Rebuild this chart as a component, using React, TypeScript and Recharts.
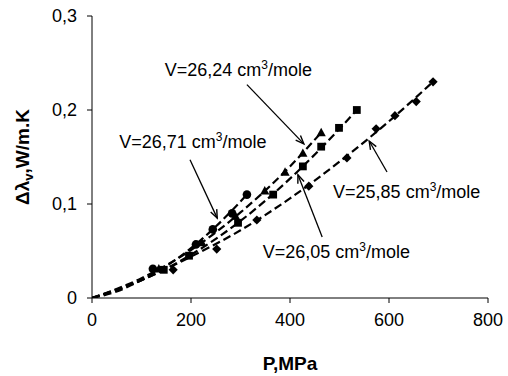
import React from 'react';
import { ComposedChart, Line, Scatter, XAxis, YAxis, ReferenceLine, ReferenceDot } from 'recharts';

const FONT = '"Liberation Sans", Arial, Helvetica, sans-serif';

// Axis ticks
const pressureTicks = [0, 200, 400, 600, 800];
const conductivityTicks = [0, 0.1, 0.2, 0.3];

// Measured points (P in MPa, Δλ in W/m.K)
const v2671P = [123, 210, 244, 283, 313];
const v2671L = [0.031, 0.057, 0.073, 0.09, 0.11];

const v2624P = [135, 222, 290, 349, 390, 426, 463];
const v2624L = [0.031, 0.059, 0.087, 0.114, 0.134, 0.154, 0.176];

const v2605P = [145, 196, 295, 366, 426, 463, 499, 535];
const v2605L = [0.03, 0.045, 0.08, 0.11, 0.14, 0.161, 0.181, 0.2];

const v2585P = [164, 252, 333, 438, 515, 574, 612, 655, 689];
const v2585L = [0.03, 0.052, 0.083, 0.119, 0.149, 0.18, 0.194, 0.209, 0.23];

// Dashed trend curves
const t2671P = [0, 50, 100, 150, 200, 250, 313];
const t2671L = [0, 0.007, 0.019, 0.034, 0.053, 0.076, 0.11];

const t2624P = [0, 100, 200, 300, 400, 463];
const t2624L = [0, 0.021, 0.051, 0.091, 0.14, 0.176];

const t2605P = [0, 100, 200, 300, 400, 500, 535];
const t2605L = [0, 0.019, 0.046, 0.082, 0.127, 0.18, 0.2];

const t2585P = [0, 100, 200, 300, 400, 500, 600, 689];
const t2585L = [0, 0.019, 0.044, 0.072, 0.106, 0.145, 0.188, 0.23];

// Annotation labels (left edge, vertical centre)
const labelTexts = ['V=26,24', 'V=26,71', 'V=26,05', 'V=25,85'];
const labelP = [147, 55, 345, 487];
const labelL = [0.2426, 0.166, 0.049, 0.113];

// Arrows: from (P1,L1) to tip (P2,L2)
const arrowP1 = [313, 198, 465, 596];
const arrowL1 = [0.227, 0.147, 0.065, 0.134];
const arrowP2 = [428, 253, 416, 560];
const arrowL2 = [0.164, 0.085, 0.131, 0.167];

const toPoints = (xs: number[], ys: number[]) => xs.map((x, i) => ({ x, y: ys[i] }));

const CircleShape = (p: any) => <circle cx={p.cx} cy={p.cy} r={4.3} fill="#000" />;
const SquareShape = (p: any) => (
  <rect x={p.cx - 3.9} y={p.cy - 3.9} width={7.8} height={7.8} fill="#000" />
);
const TriangleShape = (p: any) => (
  <path
    d={`M${p.cx},${p.cy - 4.8} L${p.cx + 4.6},${p.cy + 3.6} L${p.cx - 4.6},${p.cy + 3.6} Z`}
    fill="#000"
  />
);
const DiamondShape = (p: any) => (
  <path
    d={`M${p.cx},${p.cy - 4.6} L${p.cx + 4.6},${p.cy} L${p.cx},${p.cy + 4.6} L${p.cx - 4.6},${p.cy} Z`}
    fill="#000"
  />
);

const ArrowShape = (p: any) => {
  const { x1, y1, x2, y2 } = p;
  const ang = Math.atan2(y2 - y1, x2 - x1);
  const len = 9;
  const w = 0.38;
  const ax = x2 - len * Math.cos(ang - w);
  const ay = y2 - len * Math.sin(ang - w);
  const bx = x2 - len * Math.cos(ang + w);
  const by = y2 - len * Math.sin(ang + w);
  return (
    <g>
      <line x1={x1} y1={y1} x2={x2} y2={y2} stroke="#000" strokeWidth={1.3} />
      <path d={`M${ax},${ay} L${x2},${y2} L${bx},${by}`} stroke="#000" strokeWidth={1.4} fill="none" />
    </g>
  );
};

const makeLabel = (t: string) => (p: any) => (
  <text x={p.cx} y={p.cy + 6.5} fontFamily={FONT} fontSize={18} fill="#000">
    {t + ' cm'}
    <tspan dy={-7} fontSize={12}>3</tspan>
    <tspan dy={7}>/mole</tspan>
  </text>
);

const fmt = (v: number) => (v === 0 ? '0' : String(v).replace('.', ','));

const trends = [
  toPoints(t2671P, t2671L),
  toPoints(t2624P, t2624L),
  toPoints(t2605P, t2605L),
  toPoints(t2585P, t2585L),
];

export default function App() {
  return (
    <div style={{ position: 'absolute', left: 0, top: 0, background: '#fff' }}>
      <ComposedChart
        width={508}
        height={376}
        margin={{ top: 16, right: 20, left: 0, bottom: 0 }}
      >
        <XAxis
          type="number"
          dataKey="x"
          domain={[0, 800]}
          ticks={pressureTicks}
          allowDataOverflow
          tickSize={5}
          tickMargin={10}
          height={78}
          stroke="#000"
          tick={{ fill: '#000', fontSize: 18, fontFamily: FONT }}
          label={{
            content: (props: any) => {
              const vb = props.viewBox || { x: 92, y: 298, width: 396, height: 78 };
              return (
                <text
                  x={vb.x + vb.width / 2}
                  y={vb.y + 72}
                  textAnchor="middle"
                  fontFamily={FONT}
                  fontWeight="bold"
                  fontSize={19}
                  fill="#000"
                >
                  P,MPa
                </text>
              );
            },
          }}
        />
        <YAxis
          type="number"
          dataKey="y"
          domain={[0, 0.3]}
          ticks={conductivityTicks}
          allowDataOverflow
          tickSize={5}
          tickMargin={10}
          width={92}
          stroke="#000"
          tickFormatter={fmt}
          tick={{ fill: '#000', fontSize: 18, fontFamily: FONT }}
          label={{
            content: (props: any) => {
              const vb = props.viewBox || { x: 0, y: 16, width: 92, height: 282 };
              const cx = vb.x + 29;
              const cy = vb.y + vb.height / 2;
              return (
                <text
                  transform={`translate(${cx},${cy}) rotate(-90)`}
                  textAnchor="middle"
                  fontFamily={FONT}
                  fontWeight="bold"
                  fontSize={19}
                  fill="#000"
                >
                  Δλ
                  <tspan dy={4} fontSize={13}>v</tspan>
                  <tspan dy={-4}>,W/m.K</tspan>
                </text>
              );
            },
          }}
        />
        {trends.map((d, i) => (
          <Line
            key={'t' + i}
            data={d}
            dataKey="y"
            type="monotone"
            stroke="#000"
            strokeWidth={2.2}
            strokeDasharray="8 4"
            dot={false}
            activeDot={false}
            isAnimationActive={false}
          />
        ))}
        <Scatter data={toPoints(v2585P, v2585L)} shape={DiamondShape} isAnimationActive={false} />
        <Scatter data={toPoints(v2605P, v2605L)} shape={SquareShape} isAnimationActive={false} />
        <Scatter data={toPoints(v2624P, v2624L)} shape={TriangleShape} isAnimationActive={false} />
        <Scatter data={toPoints(v2671P, v2671L)} shape={CircleShape} isAnimationActive={false} />
        {arrowP1.map((p1, i) => (
          <ReferenceLine
            key={'a' + i}
            segment={[
              { x: p1, y: arrowL1[i] },
              { x: arrowP2[i], y: arrowL2[i] },
            ]}
            shape={ArrowShape}
            ifOverflow="visible"
          />
        ))}
        {labelTexts.map((t, i) => (
          <ReferenceDot
            key={'l' + i}
            x={labelP[i]}
            y={labelL[i]}
            r={0}
            shape={makeLabel(t)}
            ifOverflow="visible"
          />
        ))}
      </ComposedChart>
    </div>
  );
}
